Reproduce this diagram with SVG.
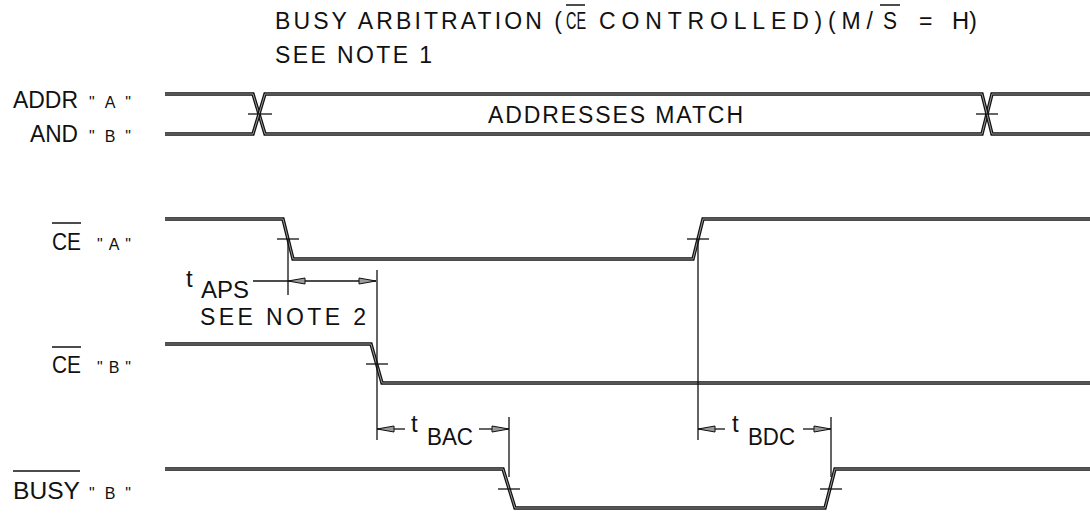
<svg xmlns="http://www.w3.org/2000/svg" xmlns:xlink="http://www.w3.org/1999/xlink" width="1090" height="513" viewBox="0 0 1090 513">
<style>
text{font-family:"Liberation Sans","DejaVu Sans",sans-serif;fill:#111;}
.t{font-size:23px;}
.s{font-size:16px;}
.tt{font-size:24px;}
.sig-o{fill:none;stroke:#111;stroke-width:3.4;stroke-linejoin:miter;}
.sig-i{fill:none;stroke:#9a9a9a;stroke-width:1;}
.thin{fill:none;stroke:#111;stroke-width:1.3;}
.bar{stroke:#111;stroke-width:1.5;}
</style>
<defs>
<marker id="ar" markerUnits="userSpaceOnUse" markerWidth="20" markerHeight="10" refX="0" refY="0" viewBox="-18 -5 20 10" orient="auto-start-reverse" overflow="visible">
<path d="M0,0 L-17,-3 L-17,3 Z" fill="#9a9a9a" stroke="#111" stroke-width="1"/>
</marker>
<path id="pA1" d="M165,94 H253 L265,134 H982 L992,94 H1090"/>
<path id="pA2" d="M165,134 H253 L265,94 H982 L992,134 H1090"/>
<path id="pCEA" d="M165,219 H283 L293,259 H693 L703,219 H1090"/>
<path id="pCEB" d="M165,344 H371 L382,383 H1090"/>
<path id="pBUSY" d="M165,469 H503 L515,508 H825 L835,469 H1090"/>
</defs>

<g id="title">
<text class="t" x="275" y="29" textLength="287" lengthAdjust="spacing">BUSY ARBITRATION (</text>
<text class="t" x="566" y="29" textLength="20" lengthAdjust="spacingAndGlyphs">CE</text>
<line class="bar" x1="566" y1="5" x2="585" y2="5"/>
<text class="t" x="599" y="29" textLength="274" lengthAdjust="spacing">CONTROLLED)(M/</text>
<text class="t" x="883" y="29" textLength="14" lengthAdjust="spacingAndGlyphs">S</text>
<line class="bar" x1="880" y1="5" x2="900" y2="5"/>
<text class="t" x="919" y="29">=</text>
<text class="t" x="952" y="29" textLength="25" lengthAdjust="spacingAndGlyphs">H)</text>
<text class="t" x="275" y="63" textLength="157" lengthAdjust="spacing">SEE NOTE 1</text>
</g>

<g id="addr">
<text class="t" x="13" y="108" textLength="65" lengthAdjust="spacingAndGlyphs">ADDR</text>
<text class="s" x="89" y="108" textLength="42" lengthAdjust="spacing">"A"</text>
<text class="t" x="30" y="142" textLength="48" lengthAdjust="spacingAndGlyphs">AND</text>
<text class="s" x="89" y="142" textLength="42" lengthAdjust="spacing">"B"</text>
<use xlink:href="#pA1" class="sig-o"/><use xlink:href="#pA1" class="sig-i"/>
<use xlink:href="#pA2" class="sig-o"/><use xlink:href="#pA2" class="sig-i"/>
<line class="thin" x1="248" y1="114" x2="272" y2="114"/>
<line class="thin" x1="976" y1="114" x2="998" y2="114"/>
<text class="t" x="488" y="123" textLength="255" lengthAdjust="spacing">ADDRESSES MATCH</text>
</g>

<g id="ce-a">
<text class="t" x="52" y="250" textLength="29" lengthAdjust="spacingAndGlyphs">CE</text>
<line class="bar" x1="52" y1="223" x2="81" y2="223"/>
<text class="s" x="97" y="250" textLength="34" lengthAdjust="spacing">"A"</text>
<use xlink:href="#pCEA" class="sig-o"/><use xlink:href="#pCEA" class="sig-i"/>
<line class="thin" x1="277" y1="239" x2="299" y2="239"/>
<line class="thin" x1="687" y1="239" x2="709" y2="239"/>
</g>

<g id="ce-b">
<text class="t" x="52" y="373" textLength="29" lengthAdjust="spacingAndGlyphs">CE</text>
<line class="bar" x1="52" y1="347" x2="81" y2="347"/>
<text class="s" x="97" y="373" textLength="34" lengthAdjust="spacing">"B"</text>
<use xlink:href="#pCEB" class="sig-o"/><use xlink:href="#pCEB" class="sig-i"/>
<line class="thin" x1="366" y1="364" x2="388" y2="364"/>
</g>

<g id="busy-b">
<text class="t" x="13" y="499" textLength="67" lengthAdjust="spacingAndGlyphs">BUSY</text>
<line class="bar" x1="13" y1="471" x2="80" y2="471"/>
<text class="s" x="89" y="499" textLength="42" lengthAdjust="spacing">"B"</text>
<use xlink:href="#pBUSY" class="sig-o"/><use xlink:href="#pBUSY" class="sig-i"/>
<line class="thin" x1="498" y1="489" x2="520" y2="489"/>
<line class="thin" x1="820" y1="489" x2="842" y2="489"/>
</g>

<g id="connectors">
<line class="thin" x1="288" y1="239" x2="288" y2="295"/>
<line class="thin" x1="698" y1="239" x2="698" y2="440"/>
<line class="thin" x1="377" y1="270" x2="377" y2="440"/>
<line class="thin" x1="509" y1="417" x2="509" y2="477"/>
<line class="thin" x1="831" y1="417" x2="831" y2="477"/>
<line class="thin" x1="253" y1="281" x2="288" y2="281"/>
<line class="thin" x1="288" y1="281" x2="376" y2="281" marker-start="url(#ar)" marker-end="url(#ar)"/>
<line class="thin" x1="405" y1="429" x2="377" y2="429" marker-end="url(#ar)"/>
<line class="thin" x1="479" y1="429" x2="509" y2="429" marker-end="url(#ar)"/>
<line class="thin" x1="725" y1="429" x2="698" y2="429" marker-end="url(#ar)"/>
<line class="thin" x1="803" y1="429" x2="831" y2="429" marker-end="url(#ar)"/>
</g>

<g id="labels">
<text class="tt" x="186" y="287">t</text>
<text class="t" x="201" y="298" textLength="48" lengthAdjust="spacingAndGlyphs">APS</text>
<text class="t" x="200" y="325" textLength="166" lengthAdjust="spacing">SEE NOTE 2</text>
<text class="tt" x="411" y="432">t</text>
<text class="t" x="427" y="445" textLength="46" lengthAdjust="spacingAndGlyphs">BAC</text>
<text class="tt" x="732" y="432">t</text>
<text class="t" x="748" y="445" textLength="47" lengthAdjust="spacingAndGlyphs">BDC</text>
</g>
</svg>
